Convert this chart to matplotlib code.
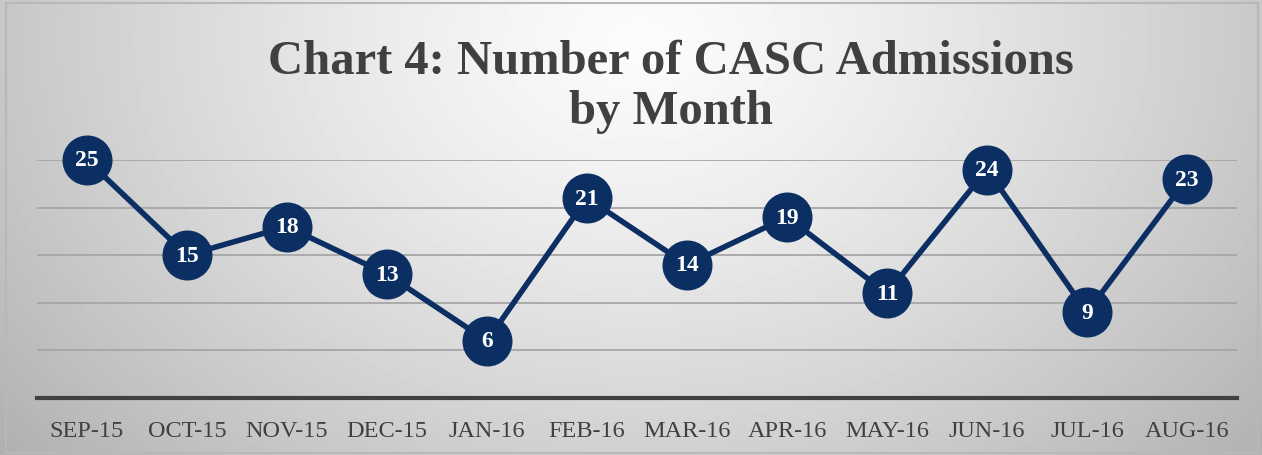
import matplotlib
matplotlib.use("Agg")
import matplotlib.pyplot as plt
import numpy as np
from matplotlib.patches import Rectangle

months = ["SEP-15", "OCT-15", "NOV-15", "DEC-15", "JAN-16", "FEB-16",
          "MAR-16", "APR-16", "MAY-16", "JUN-16", "JUL-16", "AUG-16"]
admissions = [25, 15, 18, 13, 6, 21, 14, 19, 11, 24, 9, 23]
gridlines = [5, 10, 15, 20, 25]

NAVY = "#0b2f63"
TEXT = "#404040"
SERIF = ["Liberation Serif", "DejaVu Serif"]

W, H = 1262, 456
fig = plt.figure(figsize=(W / 100, H / 100), dpi=100)

# radial gradient background (light centre-top, grey corners)
bg = fig.add_axes([0, 0, 1, 1])
bg.set_axis_off()
yy, xx = np.mgrid[0:H, 0:W]
r = np.sqrt(((xx - 640) / 740.0) ** 2 + ((yy - 40) / 560.0) ** 2)
shade = 0.985 - 0.25 * np.clip(r, 0, 1.2) ** 1.3
bg.imshow(shade, cmap="gray", vmin=0, vmax=1, extent=[0, W, H, 0], aspect="auto")
bg.set_xlim(0, W)
bg.set_ylim(H, 0)
bg.add_patch(Rectangle((6, 4), W - 10, H - 6, fill=False, edgecolor="#b8b8b8", lw=1.5))

# plot area: x 37..1237, y 161(=25)..399(=0)
ax = fig.add_axes([37 / W, (H - 399) / H, 1200 / W, 238 / H])
ax.patch.set_alpha(0)
x = np.arange(len(months))
for g in gridlines:
    ax.axhline(g, color="#a6a6a6", lw=1.3, zorder=1)
ax.axhline(0, color=TEXT, lw=3, zorder=2, clip_on=False)

ax.plot(x, admissions, color=NAVY, lw=4, marker="o", markersize=35,
        markerfacecolor=NAVY, markeredgecolor=NAVY, zorder=3, clip_on=False)
for xi, v in zip(x, admissions):
    ax.text(xi, v, str(v), ha="center", va="center", color="white",
            fontsize=17, fontweight="bold", family=SERIF, zorder=4)

ax.set_xlim(-0.5, len(months) - 0.5)
ax.set_ylim(0, 25)
ax.set_yticks([])
ax.set_xticks(x)
ax.set_xticklabels(months, family=SERIF, fontsize=17.5, color=TEXT)
ax.tick_params(axis="x", length=0, pad=16)
for s in ax.spines.values():
    s.set_visible(False)

fig.text(671 / W, 1 - 87 / H, "Chart 4: Number of CASC Admissions\nby Month",
         ha="center", va="center", family=SERIF, fontsize=35,
         fontweight="bold", color=TEXT, linespacing=1.17)

fig.savefig("out.png", dpi=100)
